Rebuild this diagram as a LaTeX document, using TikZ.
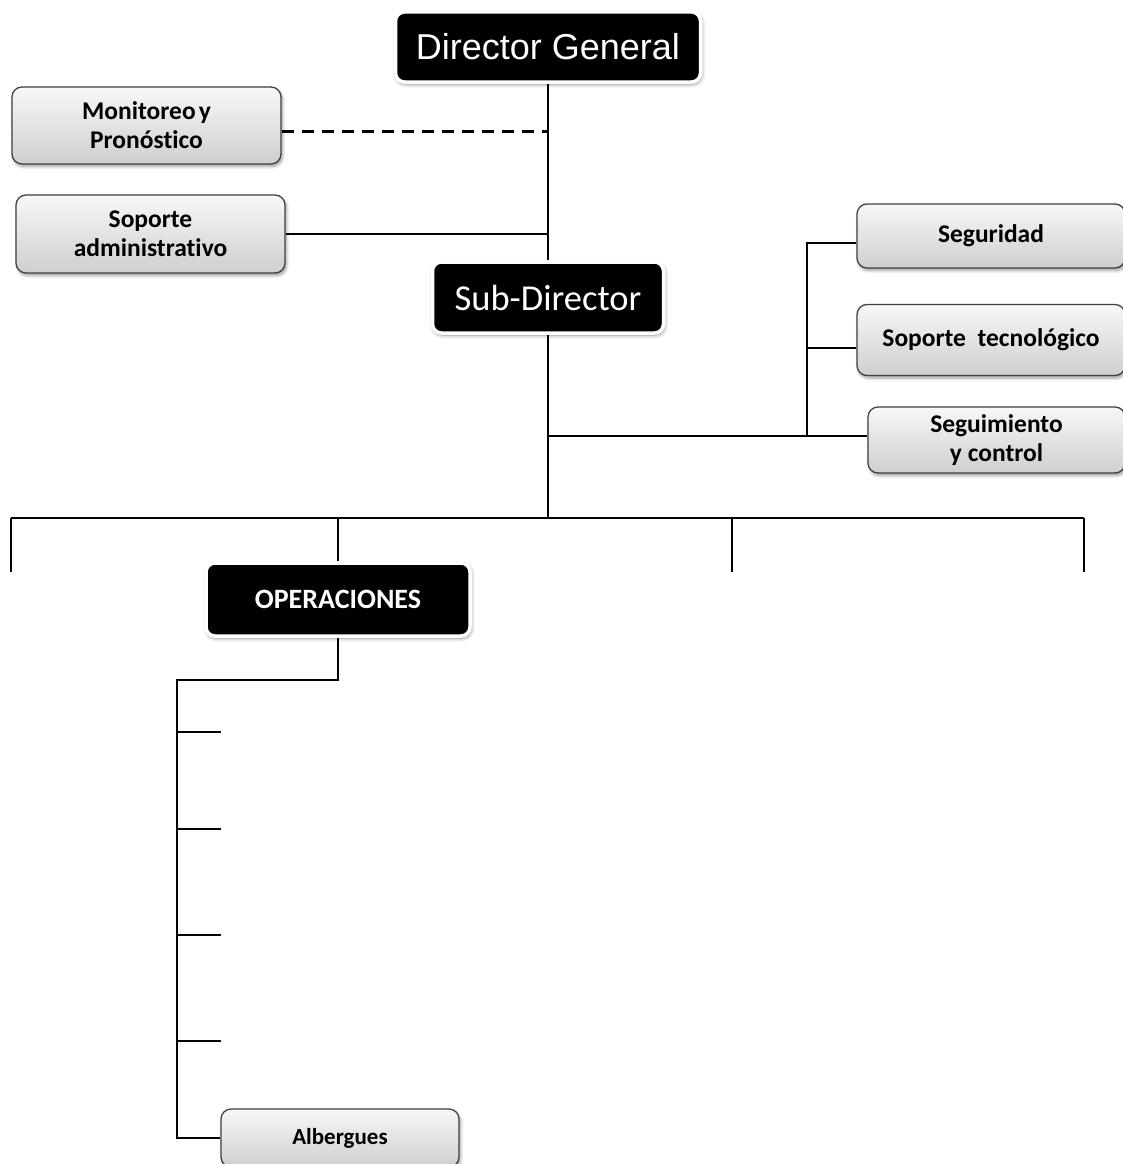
\documentclass[tikz,border=0pt]{standalone}
\usepackage{fontspec}
\setmainfont[Ligatures={NoCommon}]{Carlito}
\newfontfamily\arialf{Liberation Sans}
\usetikzlibrary{shadows.blur}
\begin{document}
\begin{tikzpicture}[x=1pt,y=-1pt,
  blackbox/.style={draw=white, line width=3.5pt, fill=black, rounded corners=9pt, text=white,
    blur shadow={shadow xshift=1pt, shadow yshift=-2pt, shadow blur steps=6, shadow blur radius=4pt, shadow opacity=45},
    inner sep=0pt, align=center},
  graybox/.style={draw=black!75, line width=1.3pt, rounded corners=10pt, top color=gray!6, bottom color=gray!38,
    blur shadow={shadow xshift=1.5pt, shadow yshift=-2.5pt, shadow blur steps=5, shadow blur radius=3pt, shadow opacity=40},
    inner sep=0pt, align=center, font=\bfseries\fontsize{25.5}{29}\selectfont},
  conn/.style={line width=2.7pt, black},
  thinconn/.style={line width=1.7pt, black}]
\useasboundingbox (0,0) rectangle (1123,1164);
\clip (0,0) rectangle (1123,1164);

% top boxes
\node[blackbox, minimum width=305pt, minimum height=70pt, font=\arialf\fontsize{36}{40}\selectfont] (dg) at (548,47) {Director General};
\node[graybox, minimum width=269pt, minimum height=77pt] (mon) at (146.5,125.5) {Monitoreo\hspace{0.12em}y\\Pronóstico};
\node[graybox, minimum width=269pt, minimum height=78pt] (sa) at (150.5,234) {Soporte\\administrativo};
\node[blackbox, minimum width=231pt, minimum height=71pt, font=\fontsize{36.5}{40}\selectfont] (sd) at (548,297.5) {Sub-Director};

% right boxes
\node[graybox, minimum width=268pt, minimum height=64pt] (segu) at (991,236) {Seguridad};
\node[graybox, minimum width=268pt, minimum height=71pt] (stec) at (991,340) {Soporte\ \ tecnológico};
\node[graybox, minimum width=257pt, minimum height=66pt] (segc) at (996.5,440) {Seguimiento\\y control};

% operaciones
\node[blackbox, minimum width=264pt, minimum height=73pt, font=\bfseries\fontsize{28}{32}\selectfont] (ops) at (338,599.5) {OPERACIONES};
\node[graybox, minimum width=238pt, minimum height=58pt, font=\bfseries\fontsize{23}{27}\selectfont] (alb) at (340,1138) {Albergues};

% coordinates
\coordinate (hub) at (548,518);
\coordinate (busL) at (11,518);
\coordinate (busR) at (1084,518);
\coordinate (dL) at (11,572);
\coordinate (dM) at (732,572);
\coordinate (dR) at (1084,572);
\coordinate (rb) at (807,436);
\coordinate (spine) at (177,680);
\coordinate (t1) at (221,732);
\coordinate (t2) at (221,829);
\coordinate (t3) at (221,935);
\coordinate (t4) at (221,1041);
\coordinate (monR) at ([yshift=-6pt]mon.east);
\coordinate (seguL) at ([yshift=-7pt]segu.west);
\coordinate (stecL) at ([yshift=-8pt]stec.west);

% connectors
\draw[conn] (dg.south) -- (sd.north);
\draw[conn, dash pattern=on 12pt off 8pt] (monR) -- (monR -| dg.south);
\draw[conn] (sa.east) -- (sa.east -| dg.south);
\draw[conn] (sd.south) -- (hub);
\draw[conn] (hub |- rb) -- (segc.west |- rb);
\draw[thinconn] (rb) -- (rb |- seguL) -- (seguL);
\draw[thinconn] (rb |- stecL) -- (stecL);
\draw[conn] (busL) -- (busR);
\draw[conn] (busL) -- (dL);
\draw[conn] (dM |- busL) -- (dM);
\draw[conn] (busR) -- (dR);
\draw[conn] (ops.north |- busL) -- (ops.north);
\draw[thinconn] (ops.south) |- (spine) -- (spine |- alb.west) -- (alb.west);
\foreach \t in {t1,t2,t3,t4} \draw[thinconn] (spine |- \t) -- (\t);
\end{tikzpicture}
\end{document}
